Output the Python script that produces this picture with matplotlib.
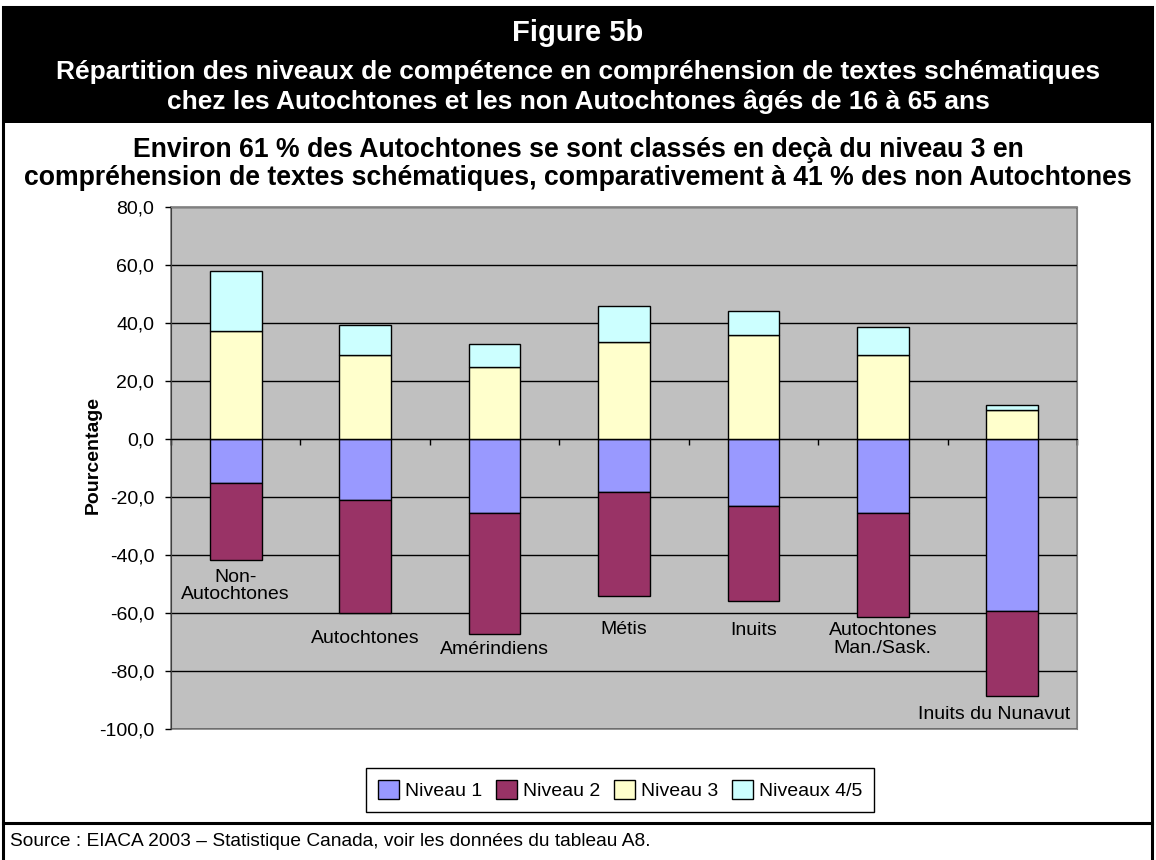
import numpy as np
import matplotlib
matplotlib.use("Agg")
import matplotlib.pyplot as plt
from matplotlib.patches import Rectangle, Patch
from matplotlib.ticker import FuncFormatter, MultipleLocator, FixedLocator

plt.rcParams['font.family'] = ['Liberation Sans', 'DejaVu Sans']

# Data (percentages)
groups = ["Non-\nAutochtones", "Autochtones", "Amérindiens", "Métis", "Inuits",
          "Autochtones\nMan./Sask.", "Inuits du Nunavut"]
niveau1 = [15.1, 21.0, 25.3, 18.3, 23.1, 25.3, 59.4]
niveau2 = [26.7, 39.0, 41.9, 35.7, 32.8, 35.9, 29.1]
niveau3 = [37.3, 29.1, 24.8, 33.6, 35.9, 29.1, 10.1]
niveau45 = [20.6, 10.2, 8.0, 12.3, 8.1, 9.5, 1.5]
series_names = ["Niveau 1", "Niveau 2", "Niveau 3", "Niveaux 4/5"]
colors = ["#9999FF", "#993366", "#FFFFCC", "#CCFFFF"]

W, H = 1156, 860
fig = plt.figure(figsize=(W / 100, H / 100), dpi=100)

def fx(px):
    return px / W

def fy(py):
    return 1 - py / H

# frame, black header band and source separator
fig.patches.append(Rectangle((fx(3), fy(123)), fx(1152) - fx(3), fy(7) - fy(123),
                             transform=fig.transFigure, facecolor="black", edgecolor="none"))
fig.patches.append(Rectangle((fx(3), fy(900)), fx(1152) - fx(3), fy(7) - fy(900),
                             transform=fig.transFigure, facecolor="none", edgecolor="black", lw=2.2))
fig.add_artist(plt.Line2D([fx(3), fx(1152)], [fy(823), fy(823)], color="black", lw=2.2,
                          transform=fig.transFigure))

fig.text(0.5, fy(33), "Figure 5b", color="white", fontsize=21, fontweight="bold",
         ha="center", va="center")
fig.text(0.5, fy(87), "Répartition des niveaux de compétence en compréhension de textes schématiques\n"
         "chez les Autochtones et les non Autochtones âgés de 16 à 65 ans",
         color="white", fontsize=19, fontweight="bold", ha="center", va="center", linespacing=1.3)
fig.text(0.5, fy(164), "Environ 61 % des Autochtones se sont classés en deçà du niveau 3 en\n"
         "compréhension de textes schématiques, comparativement à 41 % des non Autochtones",
         color="black", fontsize=19.2, fontweight="bold", ha="center", va="center", linespacing=1.12)

ax = fig.add_axes([fx(171), fy(729.3), fx(1077) - fx(171), fy(207) - fy(729.3)])
ax.set_facecolor("#C0C0C0")

x = np.arange(len(groups))
w = 0.4
neg1 = -np.array(niveau1)
neg2 = -np.array(niveau2)
ax.bar(x, neg1, w, color=colors[0], edgecolor="black", lw=1, zorder=3)
ax.bar(x, neg2, w, bottom=neg1, color=colors[1], edgecolor="black", lw=1, zorder=3)
ax.bar(x, niveau3, w, color=colors[2], edgecolor="black", lw=1, zorder=3)
ax.bar(x, niveau45, w, bottom=niveau3, color=colors[3], edgecolor="black", lw=1, zorder=3)

ax.set_xlim(-0.5, len(groups) - 0.5)
ax.set_ylim(-100, 80)
ax.yaxis.set_major_locator(MultipleLocator(20))
ax.yaxis.set_major_formatter(FuncFormatter(lambda v, p: f"{v:.1f}".replace(".", ",")))
ax.grid(axis="y", color="black", lw=1, zorder=1)
ax.tick_params(axis="y", labelsize=14, length=4, width=1, pad=8)

# category axis sits on the zero line
ax.spines["bottom"].set_position(("data", 0))
ax.spines["bottom"].set_color("black")
ax.spines["bottom"].set_zorder(4)
ax.xaxis.set_major_locator(FixedLocator(np.arange(-0.5, len(groups), 1)))
ax.tick_params(axis="x", length=4, width=1, labelbottom=False, direction="out")
for s in ["top", "right"]:
    ax.spines[s].set_color("#808080")
ax.spines["left"].set_color("#404040")
ax.add_patch(Rectangle((0, 0), 1, 1, transform=ax.transAxes, fill=False,
                       edgecolor="#808080", lw=1.2, zorder=0.5, clip_on=False))

# category labels below each bar
pads = [6, 12, 5, 18, 15, 4, 7]
dxs = [0, 0, 0, 0, 0, 0, 42]
for i, name in enumerate(groups):
    bottom = neg1[i] + neg2[i]
    ax.annotate(name, xy=(i, bottom), xytext=(dxs[i], -pads[i]), textcoords="offset points",
                ha="right" if dxs[i] else "center", va="top", fontsize=14,
                linespacing=1.05, zorder=5)

fig.text(fx(93), fy(455), "Pourcentage", rotation=90, fontsize=14, fontweight="bold",
         ha="center", va="center")

handles = [Patch(facecolor=c, edgecolor="black", lw=1) for c in colors]
fig.legend(handles, series_names, loc="center", bbox_to_anchor=(fx(620), fy(790)), ncol=4,
           fontsize=14, frameon=True, fancybox=False, edgecolor="black", framealpha=1,
           handlelength=1.1, handleheight=1.1, handletextpad=0.3, columnspacing=0.7,
           borderpad=0.6)

fig.text(fx(10), fy(841), "Source : EIACA 2003 – Statistique Canada, voir les données du tableau A8.",
         fontsize=13.8, ha="left", va="center")

fig.savefig("out.png", dpi=100)
